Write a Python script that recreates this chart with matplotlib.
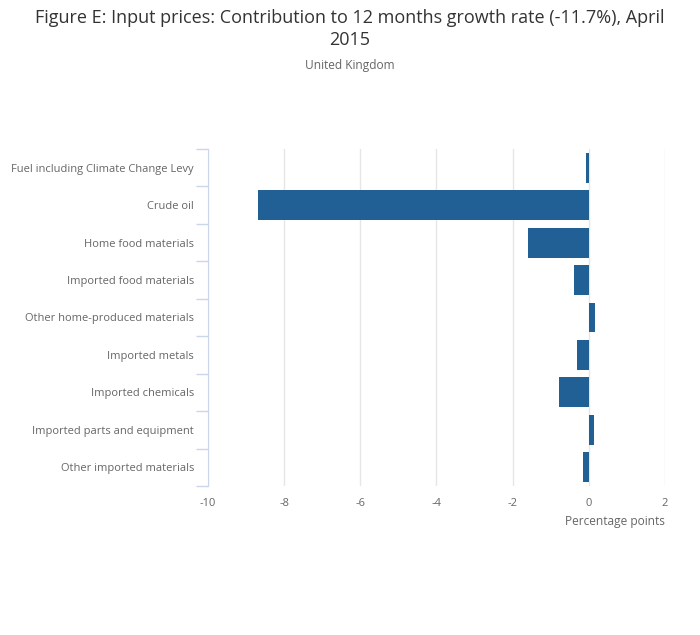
import matplotlib
matplotlib.use("Agg")
import matplotlib.pyplot as plt
import numpy as np

plt.rcParams['font.family'] = ['Open Sans', 'DejaVu Sans']

# data
categories = [
    'Fuel including Climate Change Levy',
    'Crude oil',
    'Home food materials',
    'Imported food materials',
    'Other home-produced materials',
    'Imported metals',
    'Imported chemicals',
    'Imported parts and equipment',
    'Other imported materials',
]
values = [-0.08, -8.69, -1.61, -0.40, 0.16, -0.32, -0.79, 0.13, -0.16]
x_ticks = [-10, -8, -6, -4, -2, 0, 2]

fig = plt.figure(figsize=(7, 6.35), dpi=100)
ax = fig.add_axes([208 / 700, 1 - 486 / 635, (665 - 208) / 700, (486 - 149) / 635])

y = np.arange(len(categories))
ax.barh(y, values, height=0.8, color='#206095', zorder=3)

ax.set_xlim(-10, 2)
ax.set_ylim(len(categories) - 0.5, -0.5)
ax.set_xticks(x_ticks)
ax.set_xticklabels([str(t) for t in x_ticks])
ax.grid(axis='x', color='#e6e6e6', linewidth=1, zorder=0)

ax.set_yticks(y)
ax.set_yticklabels(categories)
# band boundaries get the short tick marks
ax.set_yticks(np.arange(-0.5, len(categories)), minor=True)
ax.tick_params(axis='y', which='major', length=0, pad=10, labelsize=8, labelcolor='#666666')
ax.tick_params(axis='y', which='minor', length=9, color='#ccd6eb', width=1, direction='out')
ax.tick_params(axis='x', length=0, pad=9, labelsize=8, labelcolor='#666666')

for side in ['top', 'right', 'bottom']:
    ax.spines[side].set_visible(False)
ax.spines['left'].set_color('#ccd6eb')
ax.spines['left'].set_zorder(4)

ax.set_xlabel('Percentage points', fontsize=8.6, color='#666666', loc='right', labelpad=4)

fig.text(0.5, 1 - 18 / 635, 'Figure E: Input prices: Contribution to 12 months growth rate (-11.7%), April',
         ha='center', va='center', fontsize=13, color='#333333')
fig.text(0.5, 1 - 40 / 635, '2015', ha='center', va='center', fontsize=13, color='#333333')
fig.text(0.5, 1 - 65 / 635, 'United Kingdom', ha='center', va='center', fontsize=8.6, color='#666666')

fig.savefig('out.png', dpi=100)
